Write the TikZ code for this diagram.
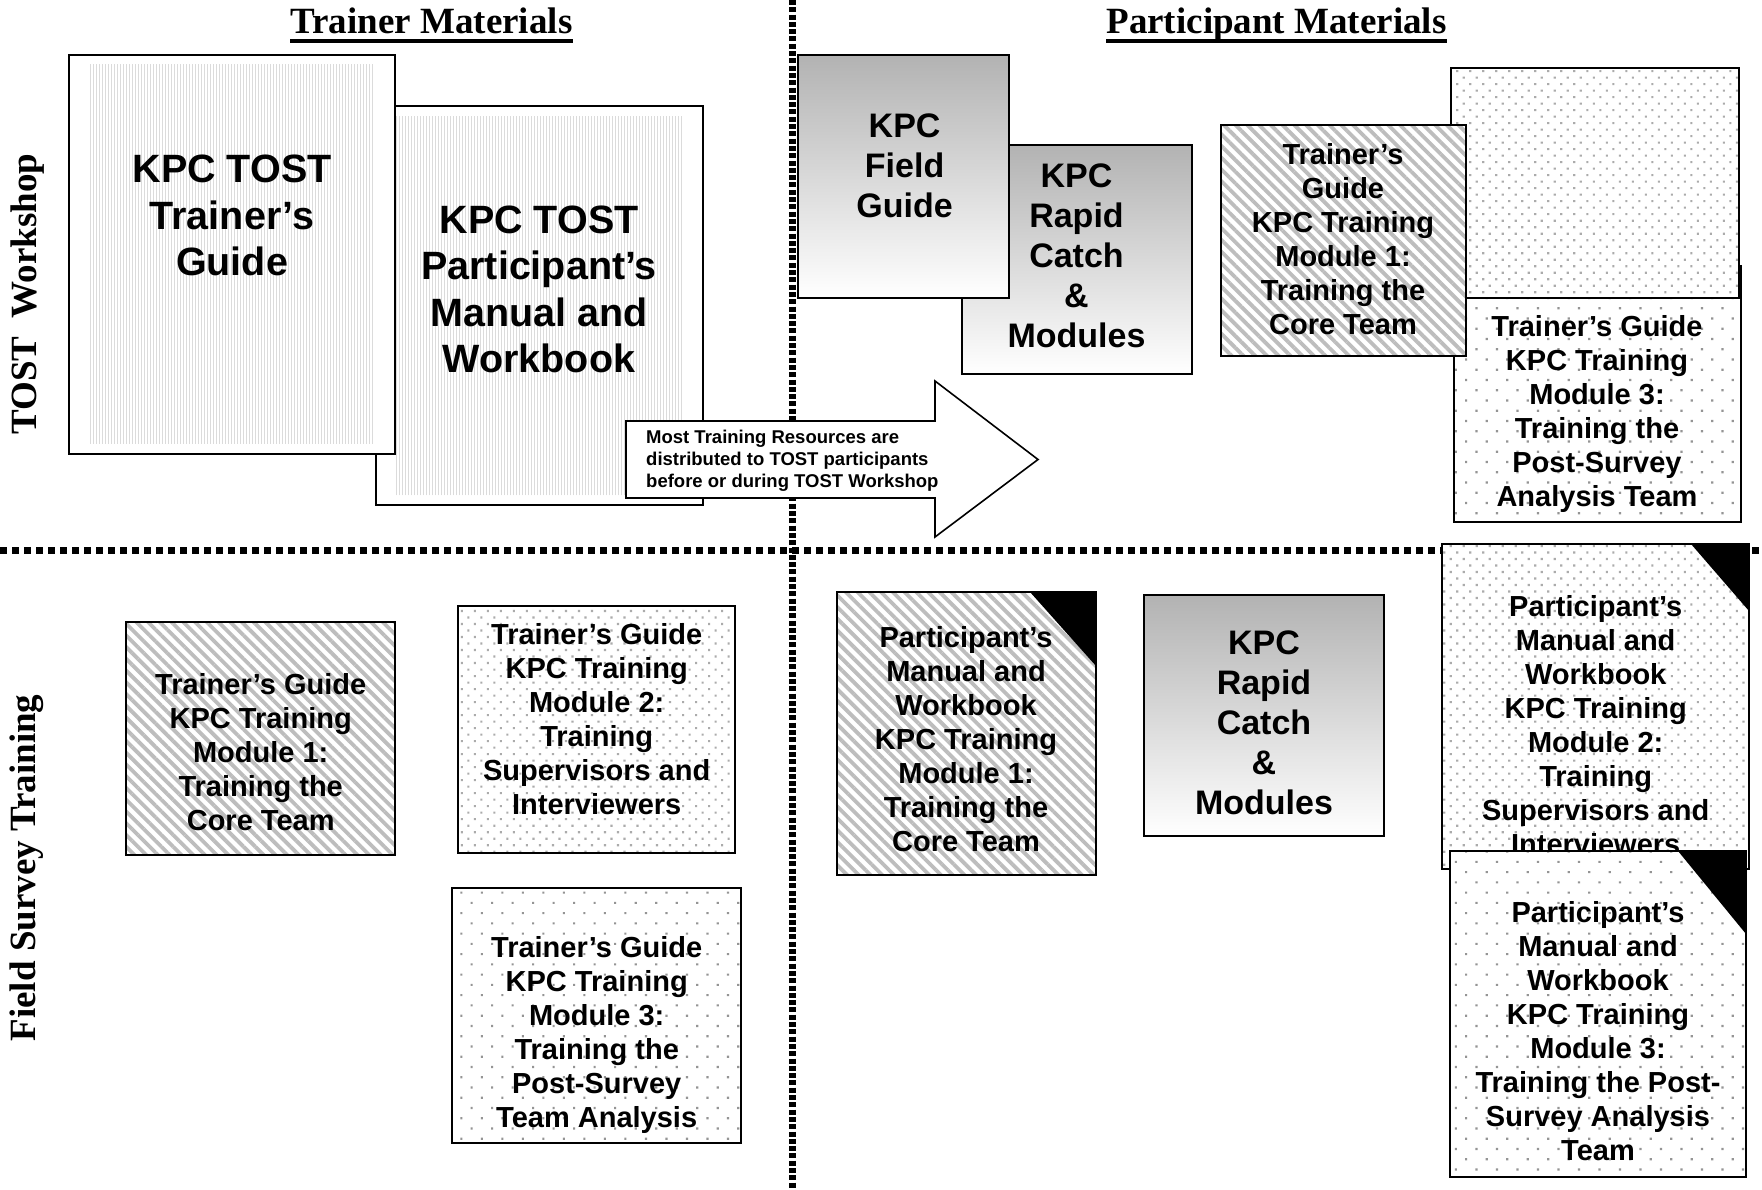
\documentclass[tikz,border=0pt]{standalone}
\usepackage{fontspec}
\setmainfont{Liberation Sans}
\newfontfamily\serifb{Liberation Serif}
\usetikzlibrary{patterns.meta}
\tikzset{
  box/.style={draw=black, line width=2.2pt, inner sep=0pt, outer sep=0pt, anchor=north west},
  plainbox/.style={box, fill=white},
  vlines/.style={inner sep=0pt, outer sep=0pt, anchor=north west, pattern={Lines[angle=90,distance=3pt,line width=0.8pt]}, pattern color=black!14},
  stripes/.style={box, preaction={fill=white}, pattern={Lines[angle=-45,distance=8.3pt,line width=3.8pt]}, pattern color=black!26},
  finedots/.style={box, preaction={fill=white}, pattern={Dots[angle=45,distance=9.2pt,radius=1.5pt]}, pattern color=black!33},
  sparsedots/.style={box, preaction={fill=white}, pattern={Dots[angle=45,distance=14.5pt,radius=1.5pt]}, pattern color=black!42},
  grad/.style={box, top color=black!30, bottom color=white},
  corner/.style={fill=black},
  bigtxt/.style={font=\fontsize{39.5}{46.5}\selectfont\bfseries, align=center, inner sep=0pt},
  midtxt/.style={font=\fontsize{34}{40}\selectfont\bfseries, align=center, inner sep=0pt},
  smalltxt/.style={font=\fontsize{29}{34}\selectfont\bfseries, align=center, inner sep=0pt},
  headtxt/.style={font=\serifb\fontsize{37}{44}\selectfont\bfseries, inner sep=0pt},
  vdiv/.style={line width=7pt, dash pattern=on 5pt off 2.3pt, black},
  hdiv/.style={line width=7pt, dash pattern=on 7pt off 5pt, black},
}
\begin{document}
\begin{tikzpicture}[x=1pt,y=1pt]
\useasboundingbox[fill=white] (0,0) rectangle (1762,-1190);

% dividers
\coordinate (vtop) at (792,0);
\coordinate (vbot) at (792,-1190);
\coordinate (hl) at (0,-550);
\coordinate (hr) at (1762,-550);
\draw[vdiv] (vtop) -- (vbot);
\draw[hdiv] (hl) -- (hr);

% headings
\node[headtxt, anchor=base] (h1) at (431.5,-34) {Trainer Materials};
\draw[line width=3.5pt] ([yshift=-7pt]h1.base west) -- ([yshift=-7pt]h1.base east);
\node[headtxt, anchor=base] (h2) at (1276.5,-34) {Participant Materials};
\draw[line width=3.5pt] ([yshift=-7pt]h2.base west) -- ([yshift=-7pt]h2.base east);

\node[headtxt, rotate=90] (lab1) at (28,-294) {TOST\ \ Workshop};
\node[headtxt, rotate=90] (lab2) at (27,-868) {Field Survey Training};

% TOST trainer materials
\node[plainbox, minimum width=327pt, minimum height=399pt] (B) at (376,-106) {};
\node[vlines, minimum width=287pt, minimum height=378pt] (Bin) at (396,-117) {};
\node[bigtxt] (Bt) at (539,-289.5) {KPC TOST\\Participant’s\\Manual and\\Workbook};

\node[plainbox, minimum width=326pt, minimum height=399pt] (A) at (69,-55) {};
\node[vlines, minimum width=283pt, minimum height=378pt] (Ain) at (90,-65) {};
\node[bigtxt] (At) at (232,-215.5) {KPC TOST\\Trainer’s\\Guide};

% TOST participant materials
\node[grad, minimum width=230pt, minimum height=229pt] (D) at (962,-145) {};
\node[midtxt] (Dt) at (1076.5,-255.5) {KPC\\Rapid\\Catch\\\&\\Modules};
\node[grad, minimum width=211pt, minimum height=243pt] (C) at (798,-55) {};
\node[midtxt] (Ct) at (904.6,-166) {KPC\\Field\\Guide};

\node[sparsedots, minimum width=287pt, minimum height=256pt] (Flo) at (1454,-266) {};
\node[finedots, minimum width=288pt, minimum height=230pt] (Fup) at (1451,-68) {};
\node[smalltxt] (Ft) at (1597,-414) {Trainer’s Guide\\KPC Training\\Module 3:\\Training the\\Post-Survey\\Analysis Team};

\node[stripes, minimum width=245pt, minimum height=231pt] (E) at (1221,-125) {};
\node[smalltxt] (Et) at (1343,-239) {Trainer’s\\Guide\\KPC Training\\Module 1:\\Training the\\Core Team};

% arrow
\coordinate (a1) at (626,-421);
\coordinate (a2) at (935,-421);
\coordinate (a3) at (935,-381);
\coordinate (a4) at (1038,-459.5);
\coordinate (a5) at (935,-537);
\coordinate (a6) at (935,-498);
\coordinate (a7) at (626,-498);
\draw[line width=1.6pt, fill=white, line join=miter] (a1) -- (a2) -- (a3) -- (a4) -- (a5) -- (a6) -- (a7) -- cycle;
\node[font=\fontsize{18.5}{22}\selectfont\bfseries, align=left, inner sep=0pt, anchor=north west] (arrtxt) at (646,-429.5) {Most Training Resources are\\distributed to TOST participants\\before or during TOST Workshop};

% Field survey trainer materials
\node[stripes, minimum width=269pt, minimum height=233pt] (G) at (126,-622) {};
\node[smalltxt] (Gt) at (260.7,-752) {Trainer’s Guide\\KPC Training\\Module 1:\\Training the\\Core Team};

\node[finedots, minimum width=277pt, minimum height=247pt] (H) at (458,-606) {};
\node[smalltxt] (Ht) at (596.7,-719) {Trainer’s Guide\\KPC Training\\Module 2:\\Training\\Supervisors and\\Interviewers};

\node[sparsedots, minimum width=289pt, minimum height=255pt] (I) at (452,-888) {};
\node[smalltxt] (It) at (596.7,-1035) {Trainer’s Guide\\KPC Training\\Module 3:\\Training the\\Post-Survey\\Team Analysis};

% Field survey participant materials
\node[stripes, minimum width=259pt, minimum height=283pt] (J) at (837,-592) {};
\fill[corner] (J.north east) -- ++(-66,0) -- ++(66,-74) -- cycle;
\node[smalltxt] (Jt) at (966,-739) {Participant’s\\Manual and\\Workbook\\KPC Training\\Module 1:\\Training the\\Core Team};

\node[grad, minimum width=240pt, minimum height=241pt] (K) at (1144,-595) {};
\node[midtxt] (Kt) at (1264,-723) {KPC\\Rapid\\Catch\\\&\\Modules};

\node[finedots, minimum width=307pt, minimum height=325pt] (L) at (1442,-544) {};
\fill[corner] (L.north east) -- ++(-58,0) -- ++(58,-67) -- cycle;
\node[smalltxt] (Lt) at (1595.7,-725) {Participant’s\\Manual and\\Workbook\\KPC Training\\Module 2:\\Training\\Supervisors and\\Interviewers};

\node[sparsedots, minimum width=296pt, minimum height=326pt] (M) at (1450,-851) {};
\fill[corner] (M.north east) -- ++(-68,0) -- ++(68,-83) -- cycle;
\node[smalltxt] (Mt) at (1598,-1031.5) {Participant’s\\Manual and\\Workbook\\KPC Training\\Module 3:\\Training the Post-\\Survey Analysis\\Team};
\end{tikzpicture}
\end{document}
